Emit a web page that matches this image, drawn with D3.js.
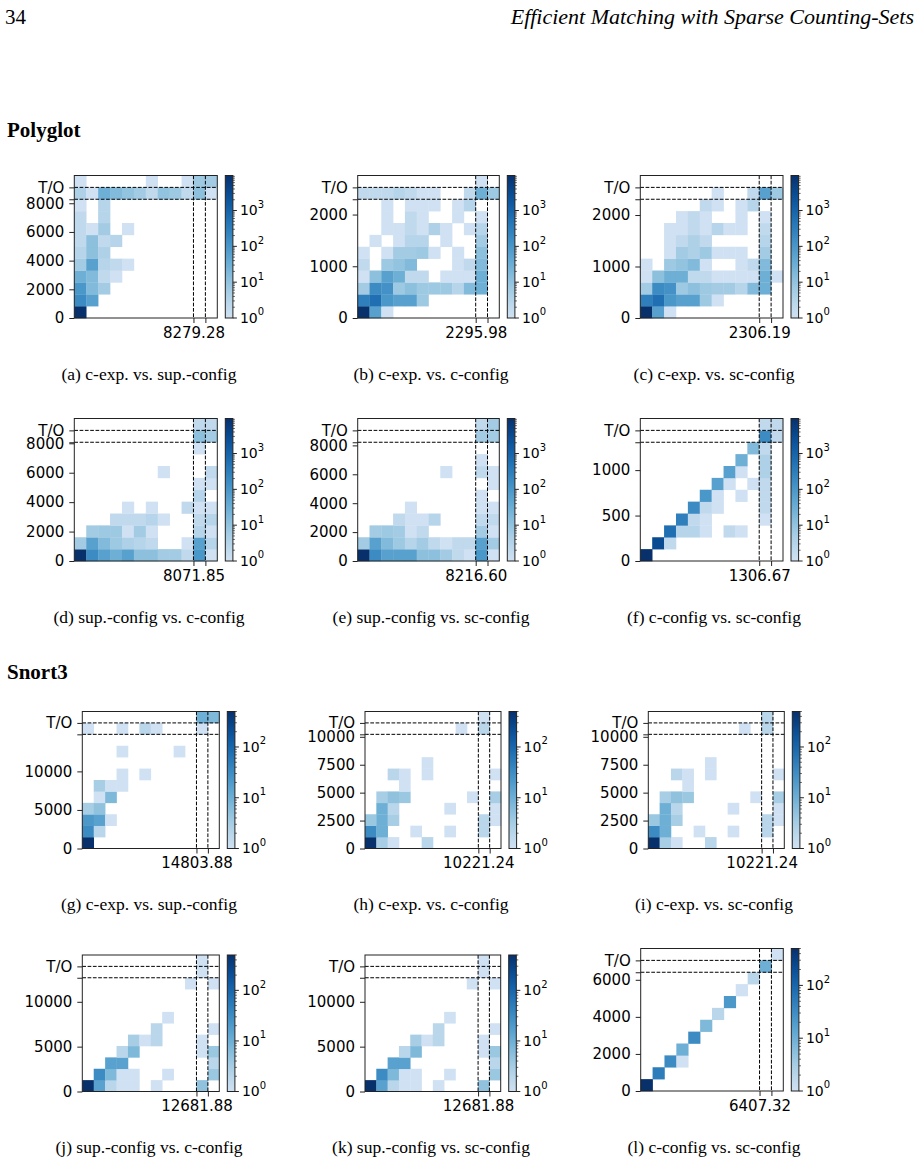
<!DOCTYPE html>
<html><head><meta charset="utf-8">
<script src="https://cdn.jsdelivr.net/npm/d3@7"></script>
<style>body{margin:0;background:#fff}</style>
</head><body>
<svg id="c" width="920" height="1162"></svg>
<script>
// ---------------- data ----------------
const captions = [
  "(a) c-exp. vs. sup.-config","(b) c-exp. vs. c-config","(c) c-exp. vs. sc-config",
  "(d) sup.-config vs. c-config","(e) sup.-config vs. sc-config","(f) c-config vs. sc-config",
  "(g) c-exp. vs. sup.-config","(h) c-exp. vs. c-config","(i) c-exp. vs. sc-config",
  "(j) sup.-config vs. c-config","(k) sup.-config vs. sc-config","(l) c-config vs. sc-config"];
const maxValues = [8279.28, 2295.98, 2306.19, 8071.85, 8216.60, 1306.67,
                   14803.88, 10221.24, 10221.24, 12681.88, 12681.88, 6407.32];
const yTickSets = [[0,2000,4000,6000,8000],[0,1000,2000],[0,1000,2000],
  [0,2000,4000,6000,8000],[0,2000,4000,6000,8000],[0,500,1000],
  [0,5000,10000],[0,2500,5000,7500,10000],[0,2500,5000,7500,10000],
  [0,5000,10000],[0,5000,10000],[0,2000,4000,6000]];
const colorMax = [9500,9500,9500,9500,9500,9500,500,500,500,500,500,500];
const sectionTitles = ["Polyglot","Snort3"];
const nBins = 12;

// cells: [column, row, count]
const cellsA = [[0,0,9500],[0,1,170],[1,1,60],[0,2,100],[1,2,17],[2,2,6],
 [0,3,30],[1,3,17],[2,3,2],[3,3,1],[0,4,6],[1,4,60],[2,4,3],[3,4,2],[4,4,1],
 [0,5,3],[1,5,12],[2,5,4],[0,6,2],[1,6,12],[2,6,2],[3,6,3],
 [0,7,2],[1,7,1],[2,7,6],[4,7,1],[0,8,2],[2,8,3],[0,9,1],[2,9,3],
 [0,10,4],[1,10,1],[2,10,30],[3,10,17],[4,10,10],[5,10,6],[6,10,2],[7,10,10],[8,10,7],[9,10,2],[10,10,12],[11,10,1],
 [0,11,1],[6,11,1],[9,11,1],[10,11,7],[11,11,6]];
const cellsB = [[0,0,9500],[1,0,60],[2,0,1],
 [0,1,300],[1,1,600],[2,1,100],[3,1,60],[4,1,60],[5,1,7],
 [0,2,6],[1,2,170],[2,2,130],[3,2,7],[4,2,12],[5,2,7],[6,2,7],[7,2,7],[8,2,3],[9,2,17],[10,2,30],
 [0,3,1],[1,3,12],[2,3,60],[3,3,30],[4,3,2],[5,3,2],[7,3,1],[8,3,1],[9,3,1],[10,3,30],
 [0,4,2],[2,4,7],[3,4,10],[4,4,17],[8,4,1],[9,4,2],[10,4,17],
 [0,5,1],[2,5,1],[3,5,6],[4,5,6],[5,5,7],[6,5,1],[8,5,1],[10,5,12],
 [1,6,1],[3,6,1],[4,6,3],[5,6,3],[7,6,1],[10,6,6],
 [2,7,1],[3,7,1],[4,7,2],[5,7,1],[6,7,4],[7,7,1],[9,7,1],[10,7,3],
 [2,8,1],[4,8,2],[5,8,1],[8,8,1],[10,8,1],
 [2,9,1],[4,9,1],[5,9,1],[6,9,1],[8,9,1],[9,9,3],
 [0,10,2],[1,10,2],[2,10,2],[3,10,3],[4,10,2],[5,10,1],[6,10,1],[9,10,2],[10,10,30],[11,10,7],
 [10,11,1]];
const cellsC = [[0,0,9500],[1,0,60],[2,0,1],
 [0,1,300],[1,1,600],[2,1,100],[3,1,60],[4,1,60],[5,1,7],[6,1,1],
 [0,2,6],[1,2,170],[2,2,130],[3,2,7],[4,2,12],[5,2,7],[6,2,6],[7,2,6],[8,2,3],[9,2,17],[10,2,30],
 [0,3,1],[1,3,12],[2,3,30],[3,3,30],[4,3,2],[5,3,2],[6,3,1],[7,3,1],[8,3,1],[9,3,1],[10,3,30],[11,3,1],
 [0,4,1],[2,4,7],[3,4,10],[4,4,17],[5,4,1],[8,4,1],[9,4,2],[10,4,17],
 [2,5,1],[3,5,6],[4,5,4],[5,5,7],[6,5,1],[7,5,1],[8,5,1],[10,5,6],
 [2,6,1],[3,6,2],[4,6,4],[5,6,2],[10,6,3],
 [2,7,1],[3,7,1],[4,7,2],[5,7,1],[6,7,3],[7,7,1],[8,7,1],[10,7,2],
 [3,8,1],[4,8,2],[5,8,1],[8,8,1],[10,8,1],
 [5,9,2],[6,9,1],[8,9,1],[9,9,3],
 [6,10,1],[9,10,2],[10,10,60],[11,10,7]];
const cellsD = [[0,0,9500],[1,0,170],[2,0,60],[3,0,30],[4,0,60],[5,0,12],[6,0,12],[7,0,6],[8,0,6],[9,0,2],[10,0,100],[11,0,1],
 [0,1,6],[1,1,60],[2,1,17],[3,1,7],[4,1,4],[5,1,3],[6,1,2],[9,1,1],[10,1,60],[11,1,3],
 [1,2,6],[2,2,7],[3,2,7],[4,2,1],[5,2,6],[6,2,1],[10,2,3],[11,2,1],
 [3,3,2],[4,3,2],[5,3,2],[6,3,3],[7,3,1],[10,3,2],[11,3,3],
 [4,4,1],[6,4,1],[9,4,2],[10,4,1],[11,4,1],
 [10,5,3],[10,6,1],[11,6,1],[7,7,1],[11,7,2],[10,9,1],
 [10,10,12],[11,10,6],[10,11,2],[11,11,2]];
const cellsE = [[0,0,9500],[1,0,170],[2,0,60],[3,0,60],[4,0,60],[5,0,12],[6,0,12],[7,0,6],[8,0,2],[9,0,1],[10,0,100],[11,0,1],
 [0,1,6],[1,1,60],[2,1,17],[3,1,7],[4,1,3],[5,1,6],[6,1,2],[7,1,1],[8,1,2],[9,1,2],[10,1,60],[11,1,6],
 [1,2,6],[2,2,7],[3,2,6],[4,2,1],[5,2,2],[10,2,6],[11,2,1],
 [3,3,2],[4,3,1],[5,3,1],[6,3,3],[10,3,2],[11,3,2],
 [4,4,1],[10,4,1],[11,4,1],[10,5,1],[11,6,1],
 [7,7,1],[10,7,2],[11,7,1],[10,8,1],
 [10,10,6],[11,10,6],[10,11,2],[11,11,6]];
const cellsF = [[0,0,9500],[1,1,3000],[2,1,2],
 [2,2,600],[3,2,3],[4,2,3],[5,2,1],[7,2,2],[8,2,1],
 [3,3,300],[4,3,2],[5,3,1],[10,3,1],
 [4,4,170],[5,4,2],[6,4,1],[10,4,2],
 [5,5,100],[6,5,1],[8,5,1],[10,5,2],
 [6,6,60],[7,6,1],[9,6,1],[10,6,2],
 [7,7,60],[8,7,1],[10,7,4],
 [8,8,30],[10,8,4],[9,9,17],[10,9,2],
 [10,10,170],[11,10,2],[10,11,2],[11,11,2]];
const cellsG = [[0,0,500],[0,1,33],[1,1,2],[0,2,22],[1,2,16],[2,2,1],
 [0,3,3],[1,3,5],[1,4,1],[2,4,7],[1,5,3],[2,5,1],[3,5,1],
 [3,6,1],[5,6,1],[3,8,1],[8,8,1],
 [0,10,1],[3,10,1],[5,10,2],[6,10,1],[10,10,1],
 [10,11,10],[11,11,7]];
const cellsH = [[0,0,500],[1,0,3],[2,0,1],[5,0,2],
 [0,1,33],[1,1,10],[4,1,1],[7,1,1],[10,1,2],
 [0,2,4],[1,2,10],[2,2,3],[10,2,2],[11,2,1],
 [1,3,10],[2,3,2],[7,3,1],[11,3,1],
 [1,4,3],[2,4,5],[3,4,4],[9,4,1],[11,4,3],
 [3,5,1],[2,6,2],[3,6,1],[5,6,1],[11,6,1],[5,7,1],
 [8,10,1],[10,10,2],[10,11,1]];
const cellsI = [[0,0,500],[1,0,3],[2,0,1],[5,0,2],
 [0,1,33],[1,1,10],[4,1,1],[7,1,1],[10,1,2],
 [0,2,4],[1,2,10],[2,2,3],[10,2,2],[11,2,1],
 [1,3,10],[2,3,2],[7,3,1],[11,3,1],
 [1,4,3],[2,4,5],[3,4,4],[9,4,1],[11,4,3],
 [3,5,1],[2,6,2],[3,6,1],[5,6,1],[11,6,1],[5,7,1],
 [8,10,1],[10,10,2],[10,11,2]];
const cellsJ = [[0,0,500],[1,0,16],[2,0,2],[3,0,1],[4,0,1],[6,0,1],[10,0,5],
 [1,1,33],[2,1,7],[3,1,1],[4,1,1],[7,1,1],[11,1,4],
 [2,2,16],[3,2,16],[11,2,2],
 [3,3,2],[4,3,7],[10,3,1],[11,3,4],
 [4,4,3],[5,4,1],[6,4,2],[10,4,1],
 [6,5,2],[11,5,1],[7,6,1],
 [9,9,1],[11,9,1],[10,10,1],[10,11,1]];
const cellsK = [[0,0,500],[1,0,16],[2,0,2],[3,0,1],[4,0,1],[6,0,1],[10,0,5],
 [1,1,33],[2,1,7],[3,1,1],[4,1,1],[7,1,1],[11,1,4],
 [2,2,16],[3,2,16],[11,2,2],
 [3,3,2],[4,3,7],[10,3,1],[11,3,4],
 [4,4,3],[5,4,1],[6,4,2],[10,4,1],
 [6,5,2],[11,5,1],[7,6,1],
 [9,9,1],[11,9,1],[10,10,1],[10,11,1]];
const cellsL = [[0,0,500],[1,1,50],[2,2,33],[3,2,1],[3,3,10],[4,4,33],[5,5,7],
 [6,6,2],[7,7,22],[8,8,1],[9,9,2],[10,10,10],[11,11,1]];
const allCells = [cellsA,cellsB,cellsC,cellsD,cellsE,cellsF,cellsG,cellsH,cellsI,cellsJ,cellsK,cellsL];

// ---------------- layout ----------------
const frames = [
 {x0:74.3,x1:217.3,y0:175.5,y1:318},{x0:357.7,x1:499.3,y0:175.5,y1:318},{x0:640.3,x1:783,y0:175.5,y1:318},
 {x0:74.3,x1:217.3,y0:418.5,y1:561},{x0:357.7,x1:499.3,y0:418.5,y1:561},{x0:640.3,x1:783,y0:418.5,y1:561},
 {x0:82.3,x1:219.3,y0:711.5,y1:848.5},{x0:365,x1:501,y0:711.5,y1:848.5},{x0:648.3,x1:784.3,y0:711.5,y1:848.5},
 {x0:82.3,x1:219.3,y0:955,y1:1091.5},{x0:365,x1:500.7,y0:955,y1:1091.5},{x0:640.7,x1:783.3,y0:948.5,y1:1091}];
const captionX = [149,431,714];
const captionY = [374,617,904,1147];

const svg = d3.select("#c");
const defs = svg.append("defs");
const grad = defs.append("linearGradient").attr("id","cbgrad")
  .attr("x1",0).attr("y1",1).attr("x2",0).attr("y2",0);
d3.range(0,1.0001,0.05).forEach(s=>{
  grad.append("stop").attr("offset",s).attr("stop-color",d3.interpolateBlues(0.2+0.8*s));
});

// header
svg.append("text").attr("x",5).attr("y",24).attr("font-family","Liberation Serif")
  .attr("font-size",21).text("34");
svg.append("text").attr("x",914).attr("y",24).attr("text-anchor","end").attr("font-family","Liberation Serif")
  .attr("font-style","italic").attr("font-size",22).text("Efficient Matching with Sparse Counting-Sets");
svg.append("text").attr("x",7).attr("y",137).attr("font-family","Liberation Serif")
  .attr("font-weight","bold").attr("font-size",21).text(sectionTitles[0]);
svg.append("text").attr("x",7).attr("y",679).attr("font-family","Liberation Serif")
  .attr("font-weight","bold").attr("font-size",21).text(sectionTitles[1]);

const tickFont = "DejaVu Sans";
const tickSize = 15;

allCells.forEach((cells,i)=>{
  const f = frames[i];
  const mx = maxValues[i];
  const top = mx*1.2, to = mx*1.1, bw = top/nBins;
  const x = d3.scaleLinear().domain([0,top]).range([f.x0,f.x1]);
  const y = d3.scaleLinear().domain([0,top]).range([f.y1,f.y0]);
  const cnorm = d3.scaleLog().domain([1,colorMax[i]]).range([0,1]).clamp(true);
  const color = c => d3.interpolateBlues(0.2+0.8*cnorm(c));
  const g = svg.append("g");

  g.selectAll("rect.cell").data(cells).join("rect").attr("class","cell")
    .attr("x",d=>x(d[0]*bw)).attr("y",d=>y((d[1]+1)*bw))
    .attr("width",d=>x((d[0]+1)*bw)-x(d[0]*bw)+0.3)
    .attr("height",d=>y(d[1]*bw)-y((d[1]+1)*bw)+0.3)
    .attr("fill",d=>color(d[2]));

  // dashed reference lines
  [mx,to].forEach(v=>{
    g.append("line").attr("x1",f.x0).attr("x2",f.x1).attr("y1",y(v)).attr("y2",y(v))
      .attr("stroke","#000").attr("stroke-width",1).attr("stroke-dasharray","3.7,1.6");
    g.append("line").attr("y1",f.y0).attr("y2",f.y1).attr("x1",x(v)).attr("x2",x(v))
      .attr("stroke","#000").attr("stroke-width",1).attr("stroke-dasharray","3.7,1.6");
  });

  g.append("rect").attr("x",f.x0).attr("y",f.y0).attr("width",f.x1-f.x0).attr("height",f.y1-f.y0)
    .attr("fill","none").attr("stroke","#222").attr("stroke-width",1);

  const yAxis = d3.axisLeft(y).tickValues(yTickSets[i].concat([mx,to])).tickSize(5).tickPadding(5)
    .tickSizeOuter(0).tickFormat(d=> d===to ? "T/O" : (d===mx ? "" : d3.format("d")(d)));
  const ya = g.append("g").attr("transform",`translate(${f.x0},0)`).call(yAxis);
  const xAxis = d3.axisBottom(x).tickValues([mx,to]).tickSize(5).tickPadding(4).tickSizeOuter(0)
    .tickFormat(d=> d===mx ? d3.format(".2f")(d) : "");
  const xa = g.append("g").attr("transform",`translate(0,${f.y1})`).call(xAxis);
  [ya,xa].forEach(a=>{
    a.select(".domain").remove();
    a.attr("font-family",tickFont).attr("font-size",tickSize);
    a.selectAll("line").attr("stroke","#222");
    a.selectAll("text").attr("fill","#000");
  });

  // colorbar
  const cbx = f.x1+8, cbw = 7.6;
  g.append("rect").attr("x",cbx).attr("y",f.y0).attr("width",cbw).attr("height",f.y1-f.y0)
    .attr("fill","url(#cbgrad)").attr("stroke","#222").attr("stroke-width",1);
  const cs = d3.scaleLog().domain([1,colorMax[i]]).range([f.y1,f.y0]);
  const cmax = colorMax[i];
  for(let p=0; Math.pow(10,p)<=cmax; p++){
    for(let k=1;k<10;k++){
      const v = k*Math.pow(10,p);
      if(v>cmax) break;
      const yy = cs(v);
      g.append("line").attr("x1",cbx+cbw).attr("x2",cbx+cbw+(k===1?4:2)).attr("y1",yy).attr("y2",yy)
        .attr("stroke","#222").attr("stroke-width",k===1?1:0.7);
      if(k===1){
        const t = g.append("text").attr("x",cbx+cbw+7).attr("y",yy).attr("dy","0.35em")
          .attr("font-family",tickFont).attr("font-size",14).attr("fill","#000");
        t.append("tspan").text("10");
        t.append("tspan").attr("font-size",10).attr("dy","-0.75em").text(String(p));
      }
    }
  }

  // caption
  svg.append("text").attr("x",captionX[i%3]).attr("y",captionY[Math.floor(i/3)]).attr("dy","0.35em")
    .attr("text-anchor","middle").attr("font-family","Liberation Serif").attr("font-size",17.5)
    .text(captions[i]);
});
</script>
</body></html>
